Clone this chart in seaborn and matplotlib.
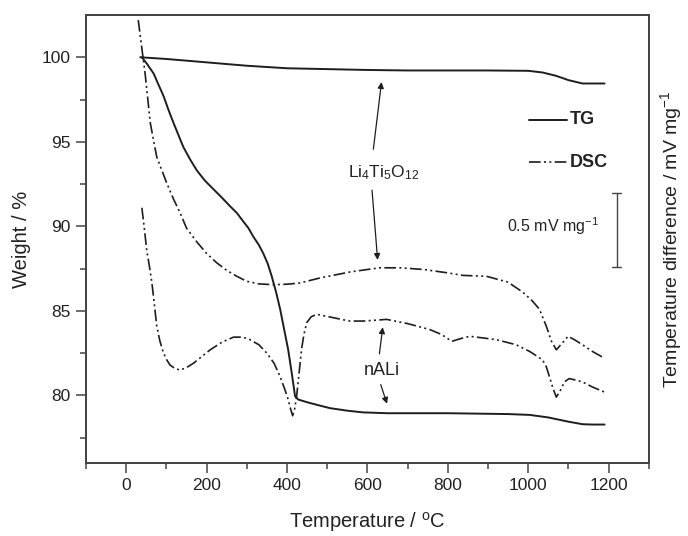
import matplotlib
matplotlib.use("Agg")
import matplotlib.pyplot as plt
import seaborn as sns

# TG curves (weight %)
tg_lto_t = [35, 100, 200, 300, 400, 500, 600, 700, 800, 900, 1000, 1036, 1070, 1100, 1135, 1160, 1190]
tg_lto_w = [100.0, 99.9, 99.7, 99.5, 99.35, 99.3, 99.25, 99.22, 99.22, 99.22, 99.2, 99.1, 98.9, 98.65, 98.45, 98.45, 98.45]

tg_nali_t = [39, 52, 68, 80, 93, 105, 118, 130, 142, 158, 176, 196, 217, 238, 258, 275, 291, 304, 316, 330, 341,
             352, 362, 373, 383, 393, 403, 412, 420, 428, 450, 482, 507, 550, 589, 650, 800, 950, 1004, 1050, 1100,
             1135, 1160, 1190]
tg_nali_w = [100.0, 99.6, 99.05, 98.4, 97.7, 96.9, 96.1, 95.4, 94.7, 94.0, 93.3, 92.7, 92.2, 91.7, 91.2, 90.8, 90.3, 89.9, 89.4, 88.9, 88.4,
             87.8, 87.05, 86.1, 85.1, 83.9, 82.7, 81.3, 79.96, 79.76, 79.6, 79.4, 79.25, 79.1, 79.0, 78.95, 78.95, 78.9, 78.85, 78.7, 78.45,
             78.3, 78.28, 78.28]

# DSC curves (arbitrary offset, plotted on right axis)
dsc_lto_t = [30, 38, 47, 60, 76, 101, 118, 134, 150, 175, 200, 225, 250, 275, 300, 330, 366, 400, 432, 482, 556,
             600, 631, 681, 740, 800, 838, 896, 950, 987, 1010, 1028, 1045, 1058, 1070, 1085, 1099, 1115, 1135, 1160, 1190]
dsc_lto_v = [102.2, 100.7, 99.05, 96.1, 94.1, 92.55, 91.6, 90.8, 89.9, 89.1, 88.4, 87.85, 87.4, 87.05, 86.75, 86.6, 86.55, 86.58, 86.65, 86.95, 87.3,
             87.45, 87.55, 87.55, 87.45, 87.25, 87.1, 87.05, 86.7, 86.1, 85.6, 85.1, 84.1, 83.2, 82.7, 83.1, 83.5, 83.3, 83.0, 82.6, 82.2]

dsc_nali_t = [39, 45, 51, 58, 64, 70, 76, 84, 93, 101, 109, 121, 134, 150, 167, 188, 209, 238, 267, 290, 308, 330, 350, 368, 383,
              394, 403, 409, 414, 419, 424, 430, 436, 442, 449, 460, 474, 515, 556, 589, 620, 648, 700, 755, 785, 810, 830, 855,
              921, 970, 1004, 1036, 1045, 1053, 1062, 1070, 1080, 1090, 1102, 1120, 1135, 1160, 1190]
dsc_nali_v = [91.1, 89.9, 88.6, 87.6, 86.65, 85.4, 84.1, 83.2, 82.5, 82.1, 81.8, 81.6, 81.5, 81.65, 81.9, 82.3, 82.7, 83.15, 83.45, 83.45, 83.3, 83.0, 82.5, 81.9, 81.1,
              80.4, 79.76, 79.2, 78.8, 79.2, 79.96, 81.3, 82.7, 83.6, 84.3, 84.65, 84.8, 84.6, 84.4, 84.4, 84.45, 84.5, 84.25, 83.9, 83.6, 83.2, 83.35, 83.5,
              83.3, 83.0, 82.6, 82.1, 81.7, 81.1, 80.4, 79.9, 80.3, 80.8, 81.0, 80.9, 80.8, 80.5, 80.2]

x_ticks = [0, 200, 400, 600, 800, 1000, 1200]
y_ticks = [80, 85, 90, 95, 100]

sns.set_style("ticks")
plt.rcParams['font.family'] = ['Liberation Sans', 'DejaVu Sans']
plt.rcParams['mathtext.fontset'] = 'custom'
plt.rcParams['mathtext.rm'] = 'Liberation Sans'
plt.rcParams['mathtext.it'] = 'Liberation Sans'

ink = '#1e1e1e'
dashdotdot = (0, (7, 2, 1.2, 2, 1.2, 2))

fig = plt.figure(figsize=(6.88, 5.36), dpi=100)
ax = fig.add_axes([0.125, 0.136, 0.818, 0.836])
ax2 = ax.twinx()

sns.lineplot(x=tg_lto_t, y=tg_lto_w, ax=ax, color=ink, lw=1.4, sort=False)
sns.lineplot(x=tg_nali_t, y=tg_nali_w, ax=ax, color=ink, lw=1.4, sort=False)
sns.lineplot(x=dsc_lto_t, y=dsc_lto_v, ax=ax2, color=ink, lw=1.2, ls=dashdotdot, sort=False)
sns.lineplot(x=dsc_nali_t, y=dsc_nali_v, ax=ax2, color=ink, lw=1.2, ls=dashdotdot, sort=False)

ax.set_xlim(-100, 1300)
ax.set_ylim(76, 102.5)
ax2.set_ylim(76, 102.5)
ax.set_xticks(x_ticks)
ax.set_yticks(y_ticks)
ax.set_xticks([-100, 100, 300, 500, 700, 900, 1100, 1300], minor=True)
ax.set_yticks([77.5, 82.5, 87.5, 92.5, 97.5], minor=True)
ax.tick_params(axis='both', which='major', length=7, width=1.1, color='#444', labelsize=12.5, labelcolor='#222', pad=4)
ax.tick_params(axis='both', which='minor', length=4, width=1.1, color='#444')
ax2.set_yticks([])
for a in (ax, ax2):
    for s in a.spines.values():
        s.set_visible(True)
        s.set_linewidth(1.3)
        s.set_color('#444')

ax.set_xlabel('Temperature / $^{\\mathrm{o}}$C', fontsize=14.5, color='#222', labelpad=12)
ax.set_ylabel('Weight / %', fontsize=14.5, color='#222', labelpad=8)
ax2.set_ylabel('Temperature difference / mV mg$^{-1}$', fontsize=14, color='#222', labelpad=7)

# annotations
ax.text(641, 93.2, 'Li$_4$Ti$_5$O$_{12}$', fontsize=12.5, ha='center', va='center', color='#222')
ax.annotate('', xy=(636, 98.7), xytext=(614, 94.4),
            arrowprops=dict(arrowstyle='-|>', color=ink, lw=0.9, mutation_scale=9))
ax.annotate('', xy=(626, 87.85), xytext=(611, 92.3),
            arrowprops=dict(arrowstyle='-|>', color=ink, lw=0.9, mutation_scale=9))
ax.text(636, 81.5, 'nALi', fontsize=13, ha='center', va='center', color='#222')
ax.annotate('', xy=(639, 84.2), xytext=(629, 82.3),
            arrowprops=dict(arrowstyle='-|>', color=ink, lw=0.9, mutation_scale=9))
ax.annotate('', xy=(651, 79.35), xytext=(631, 80.8),
            arrowprops=dict(arrowstyle='-|>', color=ink, lw=0.9, mutation_scale=9))

# legend
ax.plot([1001, 1096], [96.3, 96.3], color=ink, lw=1.4)
ax.plot([1001, 1096], [93.8, 93.8], color=ink, lw=1.2, ls=dashdotdot)
ax.text(1104, 96.3, 'TG', fontsize=13, fontweight='bold', va='center', color='#222')
ax.text(1104, 93.8, 'DSC', fontsize=13, fontweight='bold', va='center', color='#222')

# scale bar
ax.plot([1220, 1220], [87.6, 92.0], color='#444', lw=1.0)
ax.plot([1208, 1232], [92.0, 92.0], color='#444', lw=1.0)
ax.plot([1208, 1232], [87.6, 87.6], color='#444', lw=1.0)
ax.text(1176, 90.0, '0.5 mV mg$^{-1}$', fontsize=11.5, ha='right', va='center', color='#222')

fig.savefig('out.png', dpi=100)
